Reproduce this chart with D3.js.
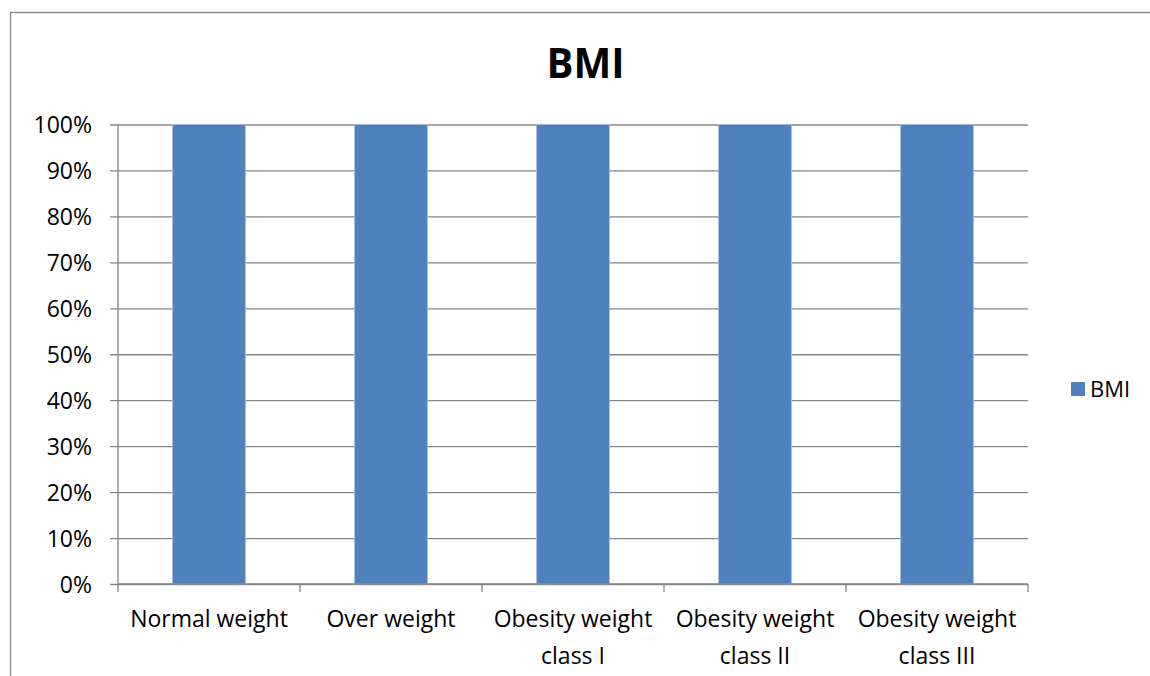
<!DOCTYPE html>
<html>
<head>
<meta charset="utf-8">
<script src="https://cdn.jsdelivr.net/npm/d3@7/dist/d3.min.js"></script>
<style>
  html, body { margin: 0; padding: 0; background: #fff; }
  svg { display: block; }
  text { font-family: "Open Sans", "Noto Sans", sans-serif; fill: #000; }
</style>
</head>
<body>
<svg id="chart" width="1150" height="676"></svg>
<script>
// Chart data
const title = "BMI";
const seriesName = "BMI";
const categories = ["Normal weight", "Over weight", "Obesity weight class I", "Obesity weight class II", "Obesity weight class III"];
const values = [100, 100, 100, 100, 100];           // share of each category, percent
const yTicks = [0, 10, 20, 30, 40, 50, 60, 70, 80, 90, 100];

const svg = d3.select("#chart");
const W = 1150, H = 676;
const plot = { left: 118, right: 1028, top: 124.5, bottom: 584 };
const gray = "#868686";
const barColor = "#4F81BD";

// Outer chart frame
svg.append("rect")
  .attr("x", 10.5).attr("y", 12.5)
  .attr("width", W).attr("height", H)
  .attr("fill", "none").attr("stroke", gray).attr("stroke-width", 1.3);

const x = d3.scaleBand().domain(categories).range([plot.left, plot.right]).padding(0);
const y = d3.scaleLinear().domain([0, 100]).range([plot.bottom, plot.top]);

// Horizontal gridlines with outer tick marks
const yAxis = d3.axisLeft(y)
  .tickValues(yTicks)
  .tickSize(-(plot.right - plot.left))
  .tickSizeOuter(0)
  .tickPadding(0)
  .tickFormat(d => d + "%");

const gy = svg.append("g").attr("transform", `translate(${plot.left},0)`).call(yAxis);
gy.select(".domain").remove();
gy.selectAll(".tick line")
  .attr("x1", -8)
  .attr("stroke", gray).attr("stroke-width", 1.3);
gy.selectAll(".tick text")
  .attr("x", -26).attr("dy", null).attr("y", 8)
  .style("font-size", "23px").attr("fill", "#000");

// Bars
const barW = x.bandwidth() * 0.4;
svg.append("g").selectAll("rect")
  .data(categories.map((c, i) => ({ c, v: values[i] })))
  .join("rect")
  .attr("x", d => x(d.c) + (x.bandwidth() - barW) / 2)
  .attr("y", d => y(d.v))
  .attr("width", barW)
  .attr("height", d => y(0) - y(d.v))
  .attr("fill", barColor)
  .attr("stroke", "#a9c0e0").attr("stroke-width", 0.8);

// Vertical value axis line
svg.append("line")
  .attr("x1", plot.left).attr("x2", plot.left)
  .attr("y1", plot.top).attr("y2", plot.bottom)
  .attr("stroke", gray).attr("stroke-width", 1.3);

// Category axis with tick marks at band boundaries
const gx = svg.append("g");
gx.append("line")
  .attr("x1", plot.left).attr("x2", plot.right)
  .attr("y1", plot.bottom).attr("y2", plot.bottom)
  .attr("stroke", gray).attr("stroke-width", 1.3);
const bounds = categories.map(c => x(c)).concat([plot.right]);
gx.selectAll("line.tick").data(bounds).join("line")
  .attr("class", "tick")
  .attr("x1", d => d).attr("x2", d => d)
  .attr("y1", plot.bottom).attr("y2", plot.bottom + 8)
  .attr("stroke", gray).attr("stroke-width", 1.3);

// Category labels, wrapped to the band width
const lineH = 37;
categories.forEach(c => {
  const cx = x(c) + x.bandwidth() / 2;
  const t = gx.append("text")
    .attr("text-anchor", "middle")
    .attr("x", cx)
    .attr("y", 627)
    .style("font-size", "23px");
  const words = c.split(" ");
  let line = [];
  let tspan = t.append("tspan").attr("x", cx).attr("dy", 0);
  words.forEach(w => {
    line.push(w);
    tspan.text(line.join(" "));
    if (tspan.node().getComputedTextLength() > x.bandwidth() - 6 && line.length > 1) {
      line.pop();
      tspan.text(line.join(" "));
      line = [w];
      tspan = t.append("tspan").attr("x", cx).attr("dy", lineH).text(w);
    }
  });
});

// Title
svg.append("text")
  .attr("x", 585.5).attr("y", 78)
  .attr("text-anchor", "middle")
  .attr("textLength", 78).attr("lengthAdjust", "spacingAndGlyphs")
  .style("font-size", "42px").style("font-weight", "bold")
  .text(title);

// Legend
const lg = svg.append("g").attr("transform", "translate(1071,382)");
lg.append("rect").attr("width", 14).attr("height", 14).attr("fill", barColor);
lg.append("text").attr("x", 19).attr("y", 15).style("font-size", "22px").text(seriesName);
</script>
</body>
</html>
